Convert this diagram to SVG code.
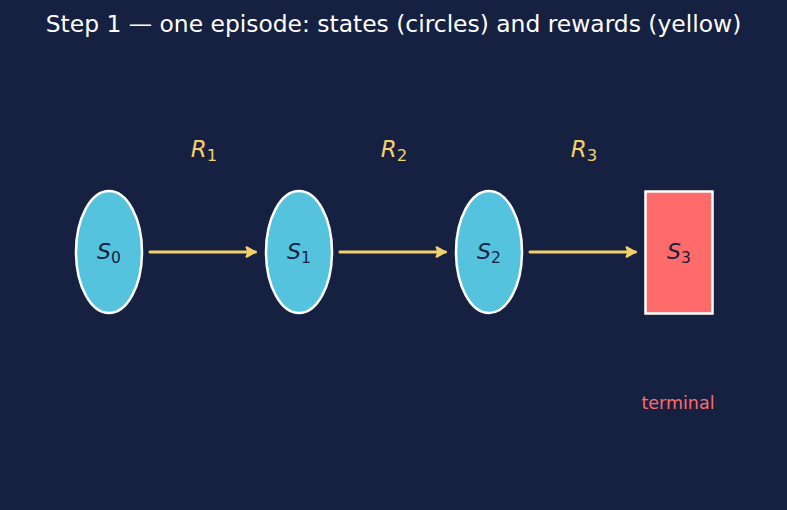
<svg xmlns="http://www.w3.org/2000/svg" width="787" height="510" viewBox="0 0 787 510">
<style>
.state{fill:#56c3de;stroke:#ffffff;stroke-width:2.5}
.term{fill:#ff6b6b;stroke:#ffffff;stroke-width:2.5}
.lbl{font-family:"DejaVu Sans",sans-serif;font-size:22px;font-style:italic;fill:#16213e;text-anchor:middle}
.sub{font-style:normal;font-size:15.5px}
.rw{font-family:"DejaVu Sans",sans-serif;font-size:23px;font-style:italic;fill:#f2d06b;text-anchor:middle}
.rw .sub{font-size:16.5px}
.arr{stroke:#f2d06b;stroke-width:3;fill:none;stroke-linecap:round}
</style>
<defs>
<marker id="ah" viewBox="0 0 10 10" refX="9" refY="5" markerWidth="4" markerHeight="4" orient="auto" markerUnits="strokeWidth">
<path d="M1.5,1 L9,5 L1.5,9 L3,5 Z" fill="#f2d06b" stroke="#f2d06b" stroke-width="1.6" stroke-linejoin="round"/>
</marker>
</defs>
<rect width="787" height="510" fill="#162040"/>
<text x="393.5" y="32" font-family="DejaVu Sans,sans-serif" font-size="23.4" fill="#ffffff" text-anchor="middle">Step 1 — one episode: states (circles) and rewards (yellow)</text>
<g id="connectors">
<line class="arr" x1="150" y1="252" x2="255.5" y2="252" marker-end="url(#ah)"/>
<line class="arr" x1="340" y1="252" x2="445.5" y2="252" marker-end="url(#ah)"/>
<line class="arr" x1="530" y1="252" x2="635.5" y2="252" marker-end="url(#ah)"/>
</g>
<g id="r1"><text class="rw" x="204" y="157">R<tspan class="sub" dy="4">1</tspan></text></g>
<g id="r2"><text class="rw" x="394" y="157">R<tspan class="sub" dy="4">2</tspan></text></g>
<g id="r3"><text class="rw" x="584" y="157">R<tspan class="sub" dy="4">3</tspan></text></g>
<g id="s0"><ellipse class="state" cx="109" cy="252" rx="33" ry="61"/><text class="lbl" x="109" y="259">S<tspan class="sub" dy="4">0</tspan></text></g>
<g id="s1"><ellipse class="state" cx="299" cy="252" rx="33" ry="61"/><text class="lbl" x="299" y="259">S<tspan class="sub" dy="4">1</tspan></text></g>
<g id="s2"><ellipse class="state" cx="489" cy="252" rx="33" ry="61"/><text class="lbl" x="489" y="259">S<tspan class="sub" dy="4">2</tspan></text></g>
<g id="s3"><rect class="term" x="645.5" y="191.5" width="67" height="122"/><text class="lbl" x="679" y="259">S<tspan class="sub" dy="4">3</tspan></text>
<text x="678" y="409" font-family="DejaVu Sans,sans-serif" font-size="17.5" fill="#ff6b6b" text-anchor="middle">terminal</text></g>
</svg>
